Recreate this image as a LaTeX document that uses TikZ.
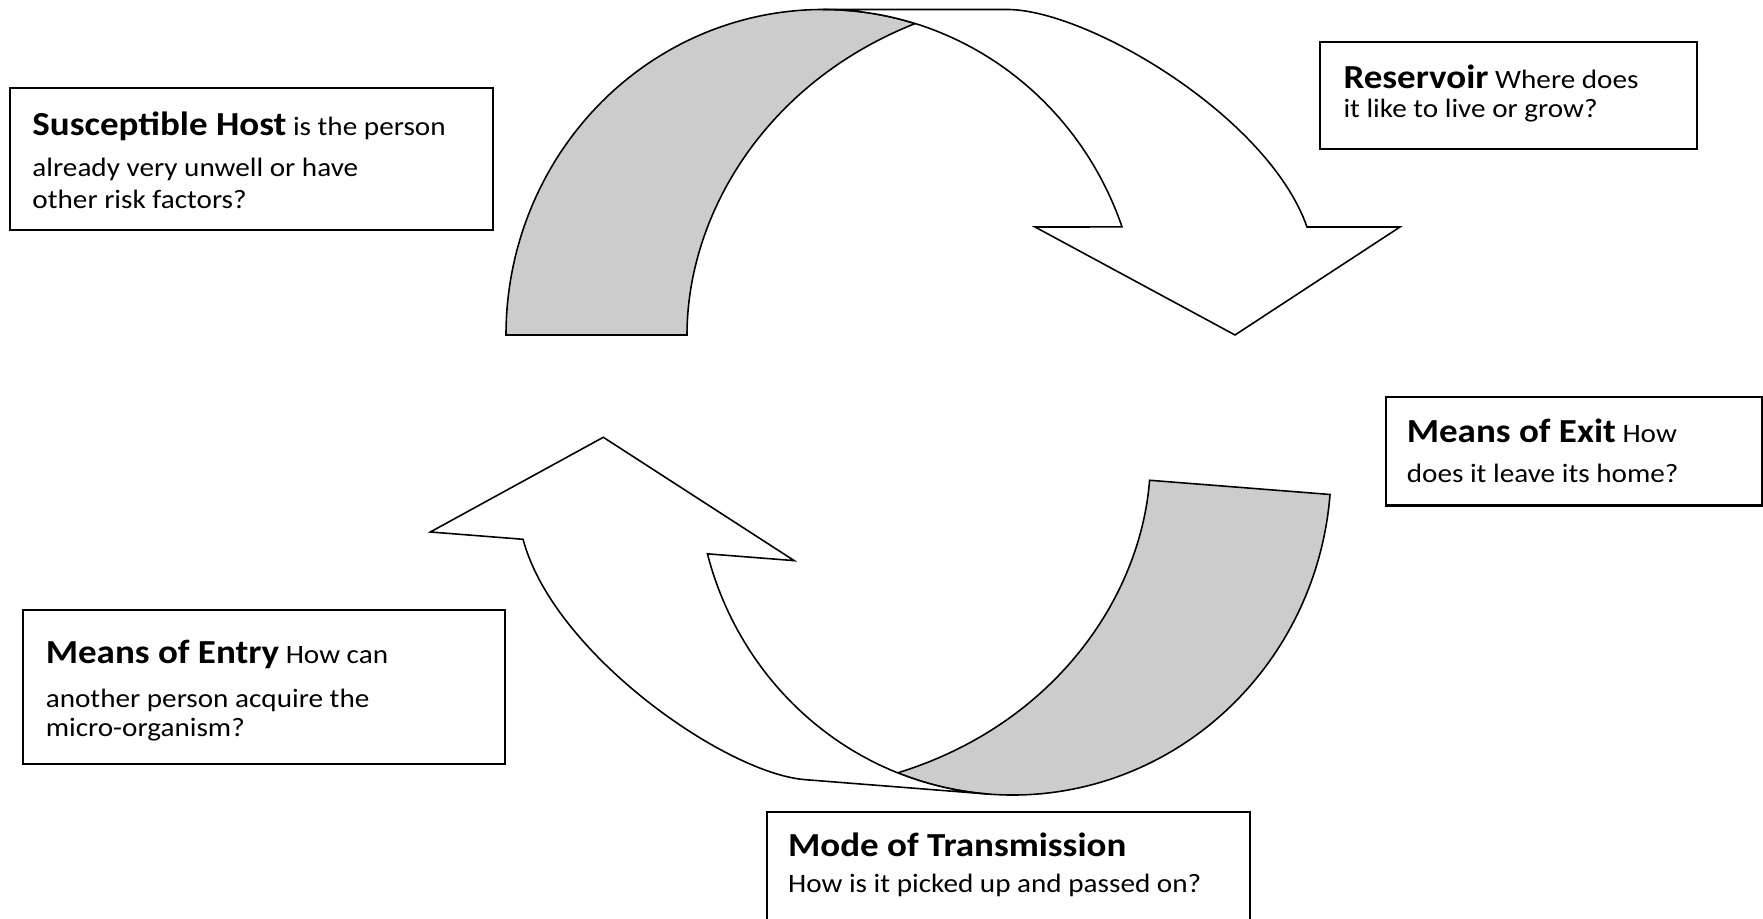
\documentclass[tikz,border=0pt]{standalone}
\usepackage{fontspec}
\setmainfont{Carlito}[FakeStretch=1.1]

\newcommand{\boxhead}[1]{{\fontsize{9.57}{11}\selectfont\bfseries #1}}
\newcommand{\ribbonarrow}{%
    \filldraw[fill=black!20] (5.06,5.84) arc[start angle=180, end angle=73.1, x radius=3.17, y radius=3.255]
        .. controls (7.65,8.36) and (6.87,7.04) .. (6.87,5.84) -- cycle;
    \filldraw[fill=white] (9.1516,8.9546) arc[start angle=73.1, end angle=19.38, x radius=3.17, y radius=3.255]
        -- (10.35,6.92) -- (12.35,5.84) -- (14.00,6.92) -- (13.07,6.92)
        .. controls (12.68,8.03) and (10.87,9.095) .. (10.07,9.095) -- (8.23,9.095)
        arc[start angle=90, end angle=73.1, x radius=3.17, y radius=3.255] -- cycle;
}

\begin{document}
\begin{tikzpicture}[line width=0.45pt,
    info/.style={draw, line width=0.6pt},
    txt/.style={anchor=base west, inner sep=0pt, font=\fontsize{7.55}{9}\selectfont}]
    \useasboundingbox (0,0) rectangle (17.63,9.19);
    % Arrows: the lower one is the upper one turned round
    \ribbonarrow
    \begin{scope}[shift={(6.033,4.817)}, rotate=175.5, shift={(-12.35,-5.84)}]
        \ribbonarrow
    \end{scope}
    % Boxes
    \draw[info] (0.10,6.89) rectangle (4.93,8.31);
    \draw[info] (13.20,7.697) rectangle (16.967,8.773);
    \draw[info] (13.86,4.135) rectangle (17.62,5.22);
    \draw[info] (0.23,1.55) rectangle (5.05,3.09);
    \draw[info] (7.673,0) |- (12.50,1.073) -- (12.50,0);
    % Text
    \node[txt] (host1) at (0.317,7.835) {\boxhead{Susceptible Host} is the person};
    \node[txt] (host2) at (0.317,7.423) {already very unwell or have};
    \node[txt] (host3) at (0.317,7.107) {other risk factors?};
    \node[txt] (res1) at (13.427,8.307) {\boxhead{Reservoir} Where does};
    \node[txt] (res2) at (13.427,8.017) {it like to live or grow?};
    \node[txt] (exit1) at (14.06,4.76) {\boxhead{Means of Exit} How};
    \node[txt] (exit2) at (14.06,4.36) {does it leave its home?};
    \node[txt] (entry1) at (0.45,2.557) {\boxhead{Means of Entry} How can};
    \node[txt] (entry2) at (0.45,2.117) {another person acquire the};
    \node[txt] (entry3) at (0.45,1.823) {micro-organism?};
    \node[txt] (mode1) at (7.873,0.623) {\boxhead{Mode of Transmission}};
    \node[txt] (mode2) at (7.873,0.26) {How is it picked up and passed on?};
\end{tikzpicture}
\end{document}
